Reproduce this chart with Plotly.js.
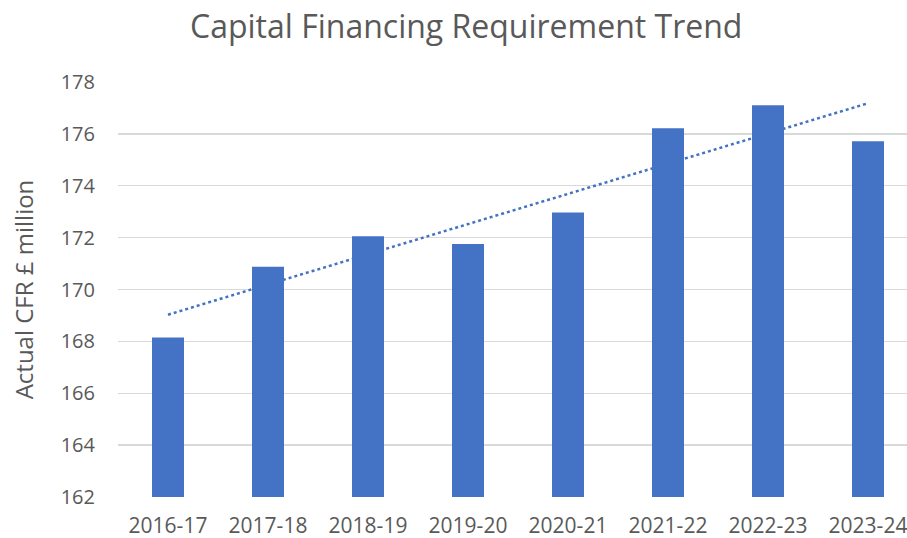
<!DOCTYPE html>
<html>
<head>
<meta charset="utf-8">
<script src="https://cdn.plot.ly/plotly-3.0.1.min.js"></script>
<style>html,body{margin:0;padding:0;background:#fff;}#chart{width:907px;height:538px;}</style>
</head>
<body>
<div id="chart"></div>
<script>
const categories = ["2016-17","2017-18","2018-19","2019-20","2020-21","2021-22","2022-23","2023-24"];
const cfrValues = [168.15, 170.88, 172.05, 171.75, 172.97, 176.22, 177.1, 175.72];
const yTicks = [162,164,166,168,170,172,174,176,178];

// Linear trendline (least squares) over the category index, as Excel draws it
const n = cfrValues.length;
const xs = cfrValues.map((_, i) => i);
const mx = xs.reduce((a,b)=>a+b,0)/n;
const my = cfrValues.reduce((a,b)=>a+b,0)/n;
let sxy = 0, sxx = 0;
for (let i = 0; i < n; i++) { sxy += (xs[i]-mx)*(cfrValues[i]-my); sxx += (xs[i]-mx)*(xs[i]-mx); }
const slope = sxy/sxx, intercept = my - slope*mx;
const trendValues = xs.map(x => intercept + slope*x);

const FONT = "Open Sans, Noto Sans, sans-serif";
const grey = "#595959";

const trend = {
  type: "scatter", mode: "lines", x: categories, y: trendValues,
  line: {color: "#4472C4", width: 2.5, dash: "dot"},
  xaxis: "x", yaxis: "y", hoverinfo: "skip", showlegend: false
};
const bars = {
  type: "bar", x: categories, y: cfrValues, base: 0,
  marker: {color: "#4472C4"},
  xaxis: "x2", yaxis: "y2", showlegend: false
};

const xr = [-0.5, 7.39];
const yr = [162, 178];
const layout = {
  width: 907, height: 538,
  margin: {l: 118, r: 0, t: 82, b: 41},
  paper_bgcolor: "#fff", plot_bgcolor: "#fff",
  bargap: 0.68,
  title: {text: "Capital Financing Requirement Trend", x: 0.514, xanchor: "center", y: 0.95, yanchor: "middle",
          font: {family: FONT, size: 32, color: grey}},
  xaxis: {type: "category", range: xr, showgrid: false, zeroline: false, showline: false,
          ticks: "", tickfont: {family: FONT, size: 21, color: grey}, ticklabelstandoff: 14},
  yaxis: {range: yr, tickvals: yTicks, showgrid: true, gridcolor: "#D9D9D9", gridwidth: 1.3,
          zeroline: false, showline: false, ticks: "", ticklabelstandoff: 22,
          tickfont: {family: FONT, size: 20, color: grey},
          title: {text: "Actual CFR £ million", standoff: 20, font: {family: FONT, size: 24, color: grey}}},
  xaxis2: {type: "category", overlaying: "x", range: xr, visible: false},
  yaxis2: {overlaying: "y", range: yr, visible: false, showgrid: false}
};

Plotly.newPlot("chart", [trend, bars], layout, {staticPlot: true, displayModeBar: false});
</script>
</body>
</html>
